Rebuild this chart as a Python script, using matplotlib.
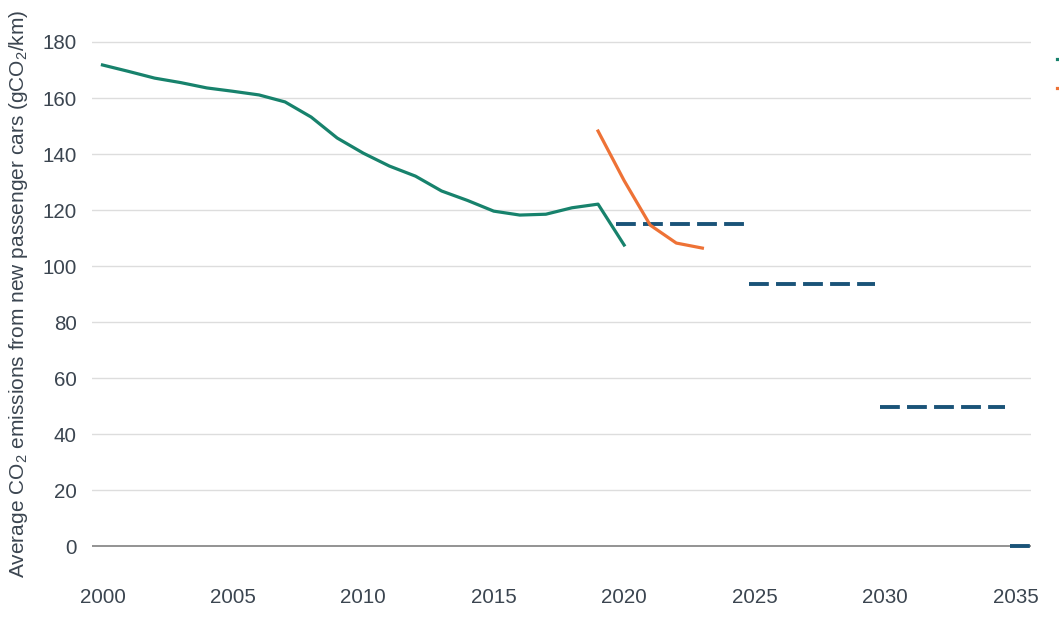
import matplotlib
matplotlib.use("Agg")
import matplotlib.pyplot as plt

plt.rcParams['font.family'] = ['Liberation Sans', 'DejaVu Sans']
plt.rcParams['mathtext.fontset'] = 'custom'
plt.rcParams['mathtext.rm'] = 'Liberation Sans'
plt.rcParams['mathtext.it'] = 'Liberation Sans'

# historical fleet average (NEDC)
nedc_years = list(range(2000, 2021))
nedc_values = [171.8, 169.5, 167.1, 165.5, 163.6, 162.4, 161.1, 158.6, 153.2, 145.7,
               140.3, 135.7, 132.1, 126.8, 123.4, 119.6, 118.2, 118.5, 120.8, 122.1, 107.5]

# WLTP values
wltp_years = [2019, 2020, 2021, 2022, 2023]
wltp_values = [148.2, 130.5, 114.6, 108.2, 106.4]

# targets (start, end, value)
target_start = [2019.7, 2024.8, 2029.8, 2034.8]
target_end = [2024.6, 2029.6, 2034.6, 2035.6]
target_values = [115.1, 93.6, 49.5, 0]

green = '#17826C'
orange = '#EE7236'
navy = '#1A5378'
text_col = '#3B4550'

fig = plt.figure(figsize=(10.59, 6.24), dpi=100)
ax = fig.add_axes([0.0869, 0.089, 0.9736 - 0.0869, 0.9686 - 0.089])

ax.set_xlim(1999.6, 2035.6)
ax.set_ylim(-8, 188)

for y in range(20, 200, 20):
    ax.axhline(y, color='#DDDDDD', lw=1, zorder=0)
ax.axhline(0, color='#8A8A8A', lw=1.3, zorder=1)

l1, = ax.plot(nedc_years, nedc_values, color=green, lw=2.3, label='NEDC', zorder=3)
l2, = ax.plot(wltp_years, wltp_values, color=orange, lw=2.3, label='WLTP', zorder=3)

for s, e, v in zip(target_start, target_end, target_values):
    ax.plot([s, e], [v, v], color=navy, lw=2.8, dashes=(5.1, 1.85),
            dash_capstyle='butt', zorder=2)

for sp in ax.spines.values():
    sp.set_visible(False)

ax.set_xticks(range(2000, 2040, 5))
ax.set_yticks(range(0, 200, 20))
ax.tick_params(axis='both', length=0, labelsize=14.8, colors=text_col)
ax.tick_params(axis='x', pad=14)
ax.tick_params(axis='y', pad=11)

ax.set_ylabel('Average CO$_2$ emissions from new passenger cars (gCO$_2$/km)',
              fontsize=15, color=text_col, labelpad=9)

fig.legend(handles=[l1, l2], loc='upper left', frameon=False,
           bbox_to_anchor=(1057 / 1059, 1 - 52 / 624), borderaxespad=0, borderpad=0,
           fontsize=13, labelspacing=0.7, handlelength=1.5)

fig.savefig('out.png', dpi=100)
